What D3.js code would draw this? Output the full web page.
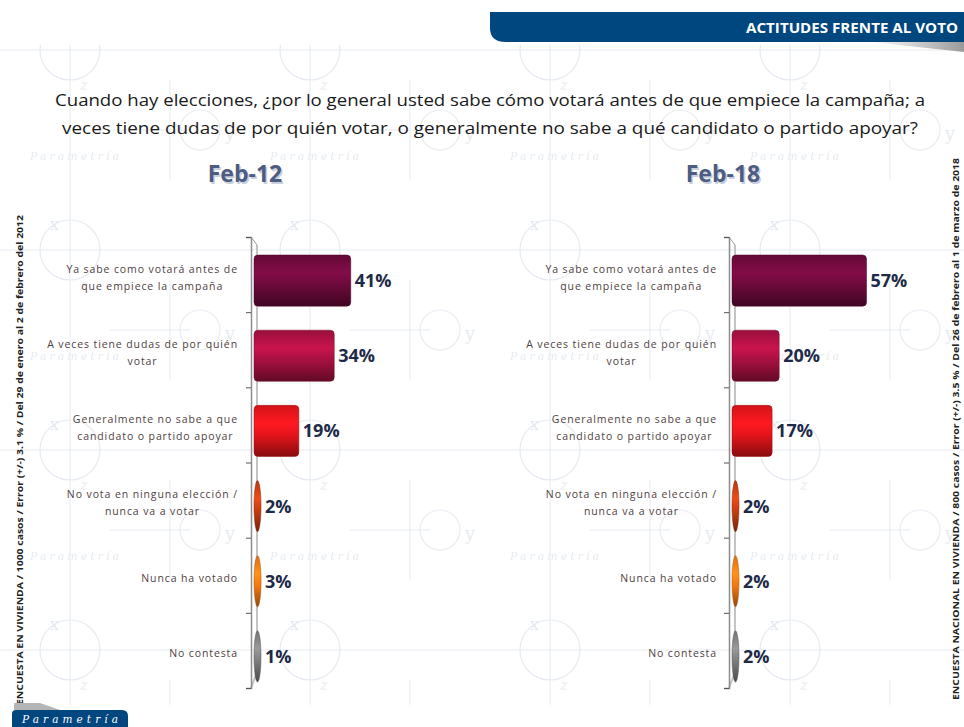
<!DOCTYPE html>
<html>
<head>
<meta charset="utf-8">
<script src="https://cdn.jsdelivr.net/npm/d3@7"></script>
<style>
  body { margin: 0; background: #fff; }
  #chart { width: 964px; height: 727px; }
</style>
</head>
<body>
<div id="chart"></div>
<script>
// categories and values
var categories = [
  ["Ya sabe como votará antes de", "que empiece la campaña"],
  ["A veces tiene dudas de por quién", "votar"],
  ["Generalmente no sabe a que", "candidato o partido apoyar"],
  ["No vota en ninguna elección /", "nunca va a votar"],
  ["Nunca ha votado"],
  ["No contesta"]
];
var feb12 = [41, 34, 19, 2, 3, 1];
var feb18 = [57, 20, 17, 2, 2, 2];
var panels = ["Feb-12", "Feb-18"];
var barColors = ["#6a0a3a", "#a3103f", "#e0141a", "#c33c12", "#f07612", "#7c7c7c"];
var titleLines = [
  "Cuando hay elecciones, ¿por lo general usted sabe cómo votará antes de que empiece la campaña; a",
  "veces tiene dudas de por quién votar, o generalmente no sabe a qué candidato o partido apoyar?"
];
var noteLeft = "ENCUESTA EN VIVIENDA / 1000 casos / Error (+/-) 3.1 % / Del 29 de enero al 2 de febrero del 2012";
var noteRight = "ENCUESTA NACIONAL EN VIVIENDA / 800 casos / Error (+/-) 3.5 % / Del 26 de febrero al 1 de marzo de 2018";

var W = 964, H = 727;
var svg = d3.select("#chart").append("svg").attr("width", W).attr("height", H);
var defs = svg.append("defs");

// faint "Parametría" watermark tile
var pat = defs.append("pattern").attr("id", "wm").attr("patternUnits", "userSpaceOnUse")
  .attr("width", 240).attr("height", 200).attr("x", 10).attr("y", 10);
var wc = "#e6ebf2";
pat.append("line").attr("x1", 0).attr("x2", 240).attr("y1", 40).attr("y2", 40).attr("stroke", wc);
pat.append("line").attr("x1", 60).attr("x2", 60).attr("y1", 0).attr("y2", 200).attr("stroke", wc);
pat.append("line").attr("x1", 100).attr("x2", 180).attr("y1", 120).attr("y2", 120).attr("stroke", wc);
pat.append("line").attr("x1", 160).attr("x2", 160).attr("y1", 70).attr("y2", 170).attr("stroke", wc);
pat.append("circle").attr("cx", 60).attr("cy", 40).attr("r", 30).attr("fill", "none").attr("stroke", wc).attr("stroke-width", 1.2);
pat.append("circle").attr("cx", 190).attr("cy", 120).attr("r", 20).attr("fill", "none").attr("stroke", wc).attr("stroke-width", 1.2);
pat.append("text").attr("x", 20).attr("y", 150).text("Parametría")
  .attr("font-family", "DejaVu Serif").attr("font-style", "italic").attr("font-size", 11)
  .attr("letter-spacing", 3).attr("fill", wc);
pat.append("text").attr("x", 40).attr("y", 20).text("x").attr("font-family", "DejaVu Serif").attr("font-size", 16).attr("fill", wc);
pat.append("text").attr("x", 215).attr("y", 130).text("y").attr("font-family", "DejaVu Serif").attr("font-size", 18).attr("fill", wc);
pat.append("text").attr("x", 70).attr("y", 80).text("z").attr("font-family", "DejaVu Serif").attr("font-style", "italic").attr("font-size", 14).attr("fill", wc);
svg.append("rect").attr("x", 0).attr("y", 45).attr("width", W).attr("height", 660).attr("fill", "url(#wm)");

// bar gradients (vertical shading gives the cylinder look)
barColors.forEach(function(c, i) {
  var g = defs.append("linearGradient").attr("id", "bar" + i)
    .attr("x1", 0).attr("x2", 0).attr("y1", 0).attr("y2", 1);
  g.append("stop").attr("offset", "0%").attr("stop-color", d3.rgb(c).darker(0.2));
  g.append("stop").attr("offset", "35%").attr("stop-color", d3.rgb(c).brighter(0.6));
  g.append("stop").attr("offset", "60%").attr("stop-color", c);
  g.append("stop").attr("offset", "100%").attr("stop-color", d3.rgb(c).darker(1.4));
});

// header band
svg.append("path")
  .attr("d", "M490,12 H964 V42 H506 Q490,42 490,28 Z")
  .attr("fill", "#00467f");
var sh = defs.append("linearGradient").attr("id", "shade").attr("x1", 0).attr("x2", 1);
sh.append("stop").attr("offset", "0%").attr("stop-color", "#fff");
sh.append("stop").attr("offset", "100%").attr("stop-color", "#9a9a9a");
svg.append("path").attr("d", "M870,42 H964 V52 Z").attr("fill", "url(#shade)");
svg.append("text").attr("x", 958).attr("y", 33).attr("text-anchor", "end")
  .attr("font-family", "Open Sans, sans-serif").attr("font-weight", "bold").attr("font-size", 13.5)
  .attr("fill", "#fff").attr("textLength", 212).attr("lengthAdjust", "spacingAndGlyphs")
  .text("ACTITUDES  FRENTE  AL VOTO");

// question
titleLines.forEach(function(t, i) {
  svg.append("text").attr("x", 490).attr("y", 106 + i * 28).attr("text-anchor", "middle")
    .attr("font-family", "Open Sans, sans-serif").attr("font-size", 17).attr("fill", "#1a1a1a")
    .attr("textLength", i === 0 ? 870 : 856).attr("lengthAdjust", "spacingAndGlyphs")
    .text(t);
});

// side notes
function sideNote(x, y0, len, txt) {
  svg.append("text")
    .attr("transform", "translate(" + x + "," + y0 + ") rotate(-90)")
    .attr("font-family", "Open Sans, sans-serif").attr("font-weight", "bold").attr("font-size", 8)
    .attr("fill", "#222").attr("textLength", len).attr("lengthAdjust", "spacingAndGlyphs")
    .text(txt);
}
sideNote(23, 705, 490, noteLeft);
sideNote(959, 700, 542, noteRight);

// footer
svg.append("path").attr("d", "M12,727 V714 Q12,710 16,710 H122 Q128,710 128,716 V727 Z").attr("fill", "#00467f");
svg.append("path").attr("d", "M14,703 H40 L60,710 H14 Z").attr("fill", "#b5b5b5");
svg.append("text").attr("x", 22).attr("y", 723).text("Parametría")
  .attr("font-family", "DejaVu Serif").attr("font-style", "italic").attr("font-size", 10.5)
  .attr("fill", "#fff").attr("textLength", 96).attr("lengthAdjust", "spacing");

// panels
var y = d3.scaleBand().domain(d3.range(categories.length)).range([237, 688]).paddingInner(0.32).paddingOuter(0.16);
var x = d3.scaleLinear().domain([0, 100]).range([0, 236]);
var depth = 6;

function drawPanel(axisX, labelRight, title, values) {
  var g = svg.append("g");

  g.append("text").attr("x", axisX - 6).attr("y", 182).attr("text-anchor", "middle")
    .attr("font-family", "Open Sans, sans-serif").attr("font-weight", "bold").attr("font-size", 23)
    .attr("fill", "#c9cfdc").attr("transform", "translate(1.5,1.5)").text(title);
  g.append("text").attr("x", axisX - 6).attr("y", 182).attr("text-anchor", "middle")
    .attr("font-family", "Open Sans, sans-serif").attr("font-weight", "bold").attr("font-size", 23)
    .attr("fill", "#4d5c80").text(title);

  // 3D wall
  var top = y.range()[0], bot = y.range()[1];
  g.append("path")
    .attr("d", "M" + (axisX + depth) + "," + (top + depth + 2) + " V" + (bot - 16) + " L" + axisX + "," + bot)
    .attr("fill", "none").attr("stroke", "#c4c4c4").attr("stroke-width", 2);
  g.append("path")
    .attr("d", "M" + axisX + "," + top + " L" + (axisX + depth) + "," + (top + depth + 2))
    .attr("fill", "none").attr("stroke", "#9a9a9a");

  var axis = d3.axisLeft(d3.scaleLinear().domain([0, categories.length]).range([top, bot]))
    .ticks(categories.length).tickSize(5).tickFormat("");
  g.append("g").attr("transform", "translate(" + axisX + ",0)").call(axis)
    .call(function(a) {
      a.select(".domain").attr("stroke", "#8c8c8c").attr("stroke-width", 1.5);
      a.selectAll(".tick line").attr("stroke", "#555");
    });

  var bx = axisX + 3;
  var bw = function(d) { return Math.max(x(d), 7); };
  var bars = g.selectAll(".bar").data(values).enter().append("g")
    .attr("transform", function(d, i) { return "translate(0," + (y(i) + depth) + ")"; });
  bars.append("rect")
    .attr("x", bx).attr("y", 0)
    .attr("width", bw)
    .attr("height", y.bandwidth())
    .attr("rx", function(d) { return Math.min(4, bw(d) / 2); })
    .attr("ry", function(d) { return x(d) < 10 ? y.bandwidth() / 2 : 4; })
    .attr("fill", function(d, i) { return "url(#bar" + i + ")"; })
    .attr("stroke", function(d, i) { return d3.rgb(barColors[i]).darker(1); })
    .attr("stroke-width", 0.5);

  bars.append("text")
    .attr("x", function(d) { return bx + bw(d) + 4; })
    .attr("y", y.bandwidth() / 2 + 6.5)
    .attr("font-family", "Open Sans, sans-serif").attr("font-weight", "bold").attr("font-size", 18)
    .attr("fill", "#1e2a48")
    .text(function(d) { return d + "%"; });

  // category labels: lines centred on each other, block right-aligned
  categories.forEach(function(lines, i) {
    var cy = y(i) + y.bandwidth() / 2 + depth / 2;
    var t = g.append("text").attr("font-family", "Open Sans, sans-serif").attr("font-size", 10.5)
      .attr("letter-spacing", 0.9)
      .attr("fill", "#4f4242").attr("text-anchor", "middle");
    var n = lines.length;
    var spans = lines.map(function(l, j) {
      return t.append("tspan").attr("y", cy + (j - (n - 1) / 2) * 17 + 3.5).text(l);
    });
    var maxW = d3.max(spans, function(s) { return s.node().getComputedTextLength(); });
    spans.forEach(function(s) { s.attr("x", labelRight - maxW / 2); });
  });
}

drawPanel(251, 238, panels[0], feb12);
drawPanel(729, 717, panels[1], feb18);
</script>
</body>
</html>
